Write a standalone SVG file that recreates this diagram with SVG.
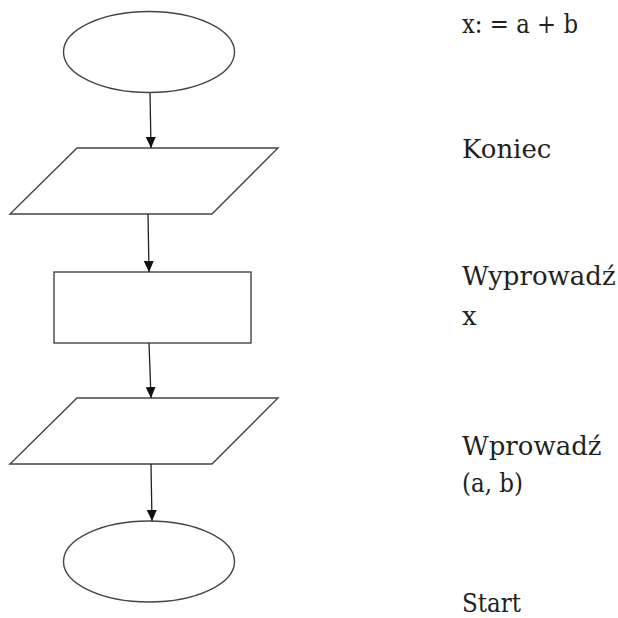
<svg xmlns="http://www.w3.org/2000/svg" width="618" height="618" viewBox="0 0 618 618">
<style>
.shape{fill:#ffffff;stroke:#444444;stroke-width:1.4}
.conn{fill:none;stroke:#222222;stroke-width:1.3}
text{font-family:"DejaVu Serif","Liberation Serif",serif;font-size:26px;fill:#231f20}
</style>
<defs>
<marker id="arrow" viewBox="0 0 11 10" refX="11" refY="5" markerWidth="11" markerHeight="10" markerUnits="userSpaceOnUse" orient="auto">
<path d="M0,0 L11,5 L0,10 z" fill="#111111"/>
</marker>
</defs>
<rect width="618" height="618" fill="#ffffff"/>
<g id="start-top"><ellipse class="shape" cx="149" cy="52" rx="85.5" ry="40.5"/></g>
<g id="io-1"><polygon class="shape" points="77,148 278,148 212,214 10,214"/></g>
<g id="process"><rect class="shape" x="54" y="272" width="197" height="71"/></g>
<g id="io-2"><polygon class="shape" points="77,398 278,398 212,464 10,464"/></g>
<g id="end-bottom"><ellipse class="shape" cx="149" cy="561.5" rx="85.5" ry="40.5"/></g>
<g id="connectors">
<path class="conn" d="M150,93 L151,148" marker-end="url(#arrow)"/>
<path class="conn" d="M148,214 L149,272" marker-end="url(#arrow)"/>
<path class="conn" d="M149,343 L151,398" marker-end="url(#arrow)"/>
<path class="conn" d="M151,464 L152,521" marker-end="url(#arrow)"/>
</g>
<g id="labels">
<text x="462" y="33" textLength="116" lengthAdjust="spacingAndGlyphs">x: = a + b</text>
<text x="462" y="158">Koniec</text>
<text x="462" y="285">Wyprowadź</text>
<text x="462" y="325">x</text>
<text x="462" y="455">Wprowadź</text>
<text x="462" y="492" textLength="61" lengthAdjust="spacingAndGlyphs">(a, b)</text>
<text x="462" y="612" textLength="59" lengthAdjust="spacingAndGlyphs">Start</text>
</g>
</svg>
